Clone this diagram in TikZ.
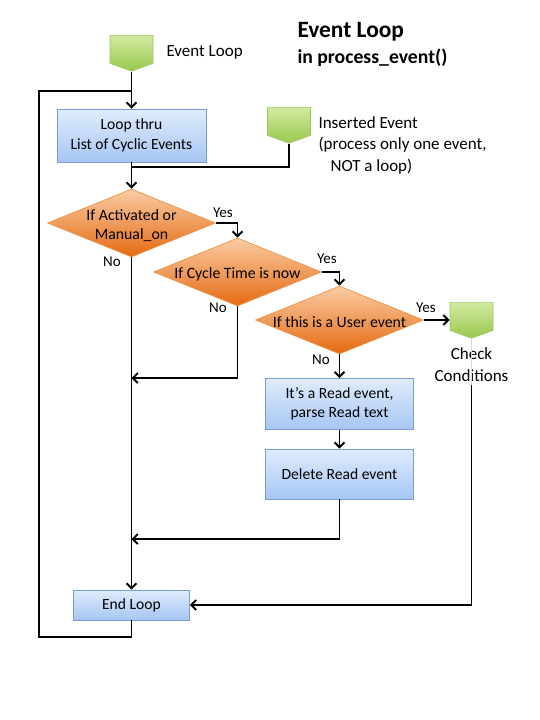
\documentclass[tikz,border=0pt]{standalone}
\usepackage{fontspec}
\setmainfont{Carlito}
\usetikzlibrary{arrows.meta,shapes.geometric,shapes.symbols}
\definecolor{grtop}{RGB}{210,234,160}
\definecolor{grbot}{RGB}{152,200,78}
\definecolor{grline}{RGB}{160,198,100}
\definecolor{boxtop}{RGB}{224,236,252}
\definecolor{boxbot}{RGB}{166,198,244}
\definecolor{boxline}{RGB}{122,158,208}
\definecolor{ortop}{RGB}{250,204,164}
\definecolor{orbot}{RGB}{228,106,18}
\definecolor{orline}{RGB}{238,148,70}
\tikzset{
 line/.style={line width=1.9pt},
 conn/.style={line width=1.9pt,-{Straight Barb[length=5pt,width=10pt]}},
 task/.style={rectangle,draw=boxline,line width=0.7pt,top color=boxtop,bottom color=boxbot,
   align=center,inner sep=0pt,font=\fontsize{15.6}{19.5}\selectfont},
 decide/.style={diamond,draw=orline,line width=0.7pt,top color=ortop,bottom color=orbot,
   minimum width=168pt,minimum height=68pt,inner sep=0pt},
 dtext/.style={align=center,font=\fontsize{15.8}{19}\selectfont},
 offpage/.style={signal,signal to=south,signal pointer angle=140,draw=grline,line width=0.7pt,
   top color=grtop,bottom color=grbot,minimum width=43pt,minimum height=28pt,inner sep=0pt,anchor=north},
 lbl/.style={align=left,font=\fontsize{17}{21.5}\selectfont},
 yn/.style={font=\fontsize{15}{18}\selectfont}
}
\begin{document}
\begin{tikzpicture}[x=1pt,y=-1pt]
\useasboundingbox (0,0) rectangle (540,720);

\node[anchor=west,font=\bfseries\fontsize{23.4}{28}\selectfont] (title) at (294,32) {Event Loop};
\node[anchor=west,font=\bfseries\fontsize{19.7}{24}\selectfont] (subtitle) at (294,58) {in process\_event()};

\node[offpage] (start) at (131.5,35) {};
\node[lbl,anchor=west] (startlbl) at (163,52) {Event Loop};
\node[task,minimum width=149pt,minimum height=53pt] (loop) at (131.5,135.5) {Loop thru\\List of Cyclic Events};
\node[offpage] (ins) at (289,107) {};
\node[lbl,anchor=north west] (inslbl) at (315,113) {Inserted Event\\(process only one event,\\\hspace*{12pt}NOT a loop)};

\node[decide] (d1) at (131.5,223) {};
\node[dtext] (d1t) at (131.5,225.5) {If Activated or\\Manual\_on};
\node[decide] (d2) at (237.5,272) {};
\node[dtext] (d2t) at (237.5,274) {If Cycle Time is now};
\node[decide] (d3) at (339.5,320) {};
\node[dtext] (d3t) at (339.5,322) {If this is a User event};

\node[yn] (yes1) at (223,213) {Yes};
\node[yn] (no1) at (112,262) {No};
\node[yn] (yes2) at (327,259) {Yes};
\node[yn] (no2) at (218,308) {No};
\node[yn] (yes3) at (426,308) {Yes};
\node[yn] (no3) at (321,360) {No};

\node[offpage] (chk) at (471.5,302) {};
\node[lbl,align=center] (chklbl) at (471.5,364.5) {Check\\Conditions};
\node[task,minimum width=148pt,minimum height=51pt] (read) at (339.5,404) {It’s a Read event,\\parse Read text};
\node[task,minimum width=148pt,minimum height=50pt] (del) at (339.5,474) {Delete Read event};
\node[task,minimum width=116pt,minimum height=30pt] (endl) at (131.5,605) {End Loop};

\coordinate (j0) at (131.5,91);
\coordinate (j1) at (131.5,167);
\coordinate (j2) at (131.5,378);
\coordinate (j3) at (131.5,539);
\coordinate (back) at (39,637);

\draw[conn] (start.south) -- (loop.north);
\draw[conn] (loop.south) -- (d1.north);
\draw[line] (ins.south) |- (j1);
\draw[conn] (d1.east) -| (d2.north);
\draw[conn] (d2.east) -| (d3.north);
\draw[conn] (d3.east) -- (d3.east -| chk.west);
\draw[conn] (d3.south) -- (read.north);
\draw[conn] (read.south) -- (del.north);
\draw[conn] (d1.south) -- (endl.north);
\draw[conn] (d2.south) |- (j2);
\draw[conn] (del.south) |- (j3);
\draw[gray!30,line width=1.4pt] (chk.south) -- (chklbl.south);
\draw[conn] (chklbl.south) |- (endl.east);
\draw[line] (endl.south) |- (back) |- (j0);
\end{tikzpicture}
\end{document}
